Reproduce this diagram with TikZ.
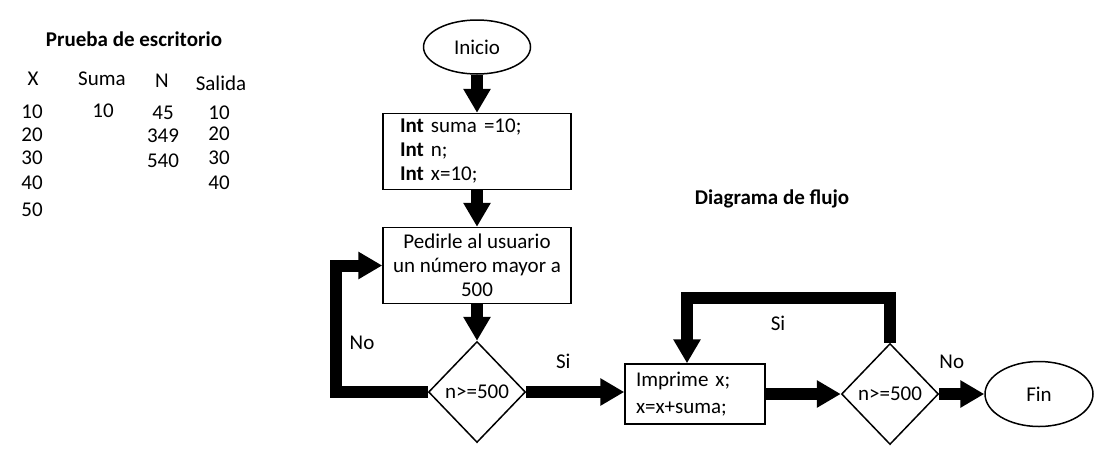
\documentclass[tikz,border=0pt]{standalone}
\usepackage{fontspec}
\setmainfont{Carlito}
\usetikzlibrary{shapes.geometric,arrows.meta}
\tikzstyle{arrow} = [-{Triangle[length=24pt,width=26pt]},line width=12pt,line join=miter]
\tikzstyle{proc} = [draw,line width=1.5pt,rectangle,minimum width=188pt,minimum height=76pt,inner sep=0pt]
\tikzstyle{decision} = [draw,line width=1.5pt,diamond,aspect=0.95,minimum width=97pt,minimum height=101pt,inner sep=0pt]
\tikzstyle{term} = [draw,line width=1.5pt,ellipse,minimum width=107pt,minimum height=54pt,inner sep=0pt]

\begin{document}
\begin{tikzpicture}[x=1pt,y=-1pt]
        \fontsize{21}{24}\selectfont
        \useasboundingbox (0,0) rectangle (1097,456);

        % prueba de escritorio
        \node[font=\bfseries] at (134,39) (titulo) {Prueba de escritorio};
        \node at (33,79) (hx) {X};
        \node at (102,79) (hsuma) {Suma};
        \node at (162,81) (hn) {N};
        \node at (221,83) (hsalida) {Salida};
        \foreach \v/\y [count=\i] in {10/112,20/135,30/158,40/183,50/210}
            \node at (32,\y) (x\i) {\v};
        \node at (103,111) (suma1) {10};
        \foreach \v/\y [count=\i] in {45/113,349/136,540/161}
            \node at (163,\y) (n\i) {\v};
        \foreach \v/\y [count=\i] in {10/113,20/134,30/158,40/183}
            \node at (219,\y) (s\i) {\v};

        % diagrama de flujo
        \node[font=\bfseries] at (772,199) (flujo) {Diagrama de flujo};
        \node[term] at (477,47) (ini) {Inicio};
        \node[proc, text width=154pt, align=left] at (477,151.5) (decl) {\textbf{Int} suma =10;\\ \textbf{Int} n;\\ \textbf{Int} x=10;};
        \node[proc, align=center] at (477,265.5) (pedir) {Pedirle al usuario\\ un número mayor a\\ 500};
        \node[decision] at (477,392) (cond1) {n>=500};
        \node[proc, minimum width=140pt, minimum height=60pt, text width=118pt, align=left, font=\fontsize{21}{27}\selectfont] at (695,394) (impr) {Imprime x;\\ x=x+suma;};
        \node[decision] at (890,394) (cond2) {n>=500};
        \node[term, minimum width=108pt, minimum height=65pt] at (1039,394) (fin) {Fin};

        \draw[arrow] (ini) -- (decl);
        \draw[arrow] (decl) -- (pedir);
        \draw[arrow] (pedir) -- (cond1);
        \draw[arrow] (cond1.west) -- ++(-92,0) |- (pedir.west);
        \node at (362,343) (no1) {No};
        \draw[arrow] (cond1.east) -- (cond1.east -| impr.west) node[midway, above=10pt, xshift=-12pt]{Si};
        \draw[arrow] (impr) -- (cond2);
        \draw[arrow] (cond2.north) -- ++(0,-45) -| ([xshift=-8pt]impr.north);
        \node at (778,323) (si2) {Si};
        \draw[arrow] (cond2) -- (fin) node[midway, above=12pt, xshift=-10pt]{No};
\end{tikzpicture}
\end{document}
